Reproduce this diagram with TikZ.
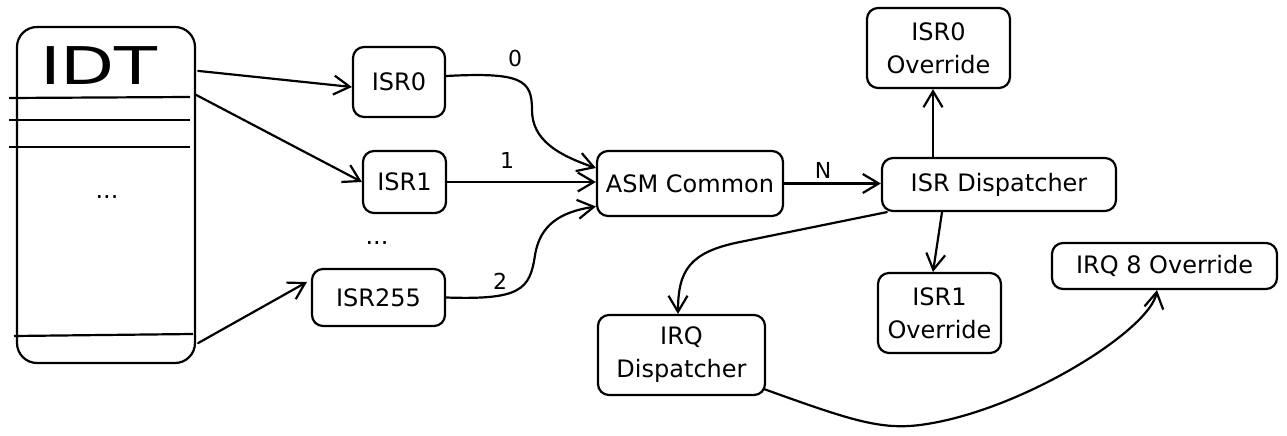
\documentclass[tikz,border=0pt]{standalone}
\usepackage{fontspec}
\usepackage{graphicx}
\setmainfont{DejaVu Sans}
\usetikzlibrary{arrows.meta}
\tikzset{
  box/.style={draw, line width=2.2pt, rounded corners=11pt, inner sep=0pt,
    align=center, font=\fontsize{24}{33}\selectfont},
  conn/.style={line width=2.2pt, line cap=round,
    -{Straight Barb[length=16pt,width=19pt,line width=2.2pt]}},
  lbl/.style={font=\fontsize{22}{24}\selectfont},
  dots/.style={font=\fontsize{24}{24}\selectfont},
  sep/.style={line width=2.2pt}
}
\begin{document}
\begin{tikzpicture}[x=1pt,y=-1pt]
\useasboundingbox[fill=white] (0,0) rectangle (1287,436);

% IDT table
\node[box, rounded corners=20pt, minimum width=178pt, minimum height=336pt] (idt) at (106,195) {};
\node[font=\fontsize{52}{55}\selectfont] (idttitle) at (99,66) {\scalebox{1.35}[1]{IDT}};
\draw[sep] (9,98) -- (190,97);
\draw[sep] (9,120) -- (190,120);
\draw[sep] (9,147) -- (190,147);
\draw[sep] (14,336) -- (193,334);
\node[dots] (idtdots) at (107,197) {...};

% ISR stubs
\node[box, minimum width=92pt, minimum height=70pt] (isr0) at (399,82) {ISR0};
\node[box, minimum width=83pt, minimum height=62pt] (isr1) at (404.5,182) {ISR1};
\node[dots] (isrdots) at (377,243) {...};
\node[box, minimum width=133pt, minimum height=57pt] (isr255) at (378.5,297.5) {ISR255};

% main chain
\node[box, minimum width=186pt, minimum height=65pt] (asm) at (690,183.5) {ASM Common};
\node[box, minimum width=234pt, minimum height=53pt] (isrd) at (999,184.5) {ISR Dispatcher};
\node[box, minimum width=143pt, minimum height=80pt] (ov0) at (938.5,48) {ISR0\\Override};
\node[box, minimum width=123pt, minimum height=80pt] (ov1) at (939.5,313) {ISR1\\Override};
\node[box, minimum width=167pt, minimum height=80pt] (irqd) at (681.5,355) {IRQ\\Dispatcher};
\node[box, minimum width=225pt, minimum height=46pt] (ov8) at (1164.5,266) {IRQ 8 Override};

% IDT -> ISRs
\draw[conn] ([shift={(2,45)}]idt.north east) -- ([shift={(0,5)}]isr0.west);
\draw[conn] ([shift={(0,69)}]idt.north east) -- (isr1.west);
\draw[conn] ([shift={(2,-21)}]idt.south east) -- ([shift={(-4,-15.5)}]isr255.west);

% ISRs -> ASM Common
\draw[conn] ([shift={(0,-6)}]isr0.east) .. controls (522,72) and (532,80) .. (532,110)
  .. controls (532,140) and (558,155) .. ([shift={(0,-15.5)}]asm.west);
\draw[conn] (isr1.east) -- (isr1.east -| asm.west);
\draw[conn] (isr255.east) .. controls (520,300) and (530,290) .. (535,255)
  .. controls (540,225) and (560,212) .. ([shift={(0,23)}]asm.west);
\node[lbl] (l0) at (515,58) {0};
\node[lbl] (l1) at (507,160) {1};
\node[lbl] (l2) at (500,281) {2};

% ASM -> ISR Dispatcher
\draw[conn] (asm.east) -- (asm.east -| isrd.west);
\node[lbl] (lN) at (823,170) {N};

% ISR Dispatcher -> overrides
\draw[conn] ([xshift=-66pt]isrd.north) -- ([xshift=-5.5pt]ov0.south);
\draw[conn] ([xshift=-57pt]isrd.south) -- ([xshift=-6.5pt]ov1.north);
\draw[conn] ([xshift=6pt]isrd.south west) -- (740,242) .. controls (690,252) and (678,270) .. ([xshift=-3.5pt]irqd.north);

% IRQ Dispatcher -> IRQ 8 Override
\draw[conn] ([shift={(-2,-7)}]irqd.south east) .. controls (850,420) and (880,430) .. (920,425)
  .. controls (1020,412) and (1150,330) .. ([xshift=-7.5pt]ov8.south);
\end{tikzpicture}
\end{document}
